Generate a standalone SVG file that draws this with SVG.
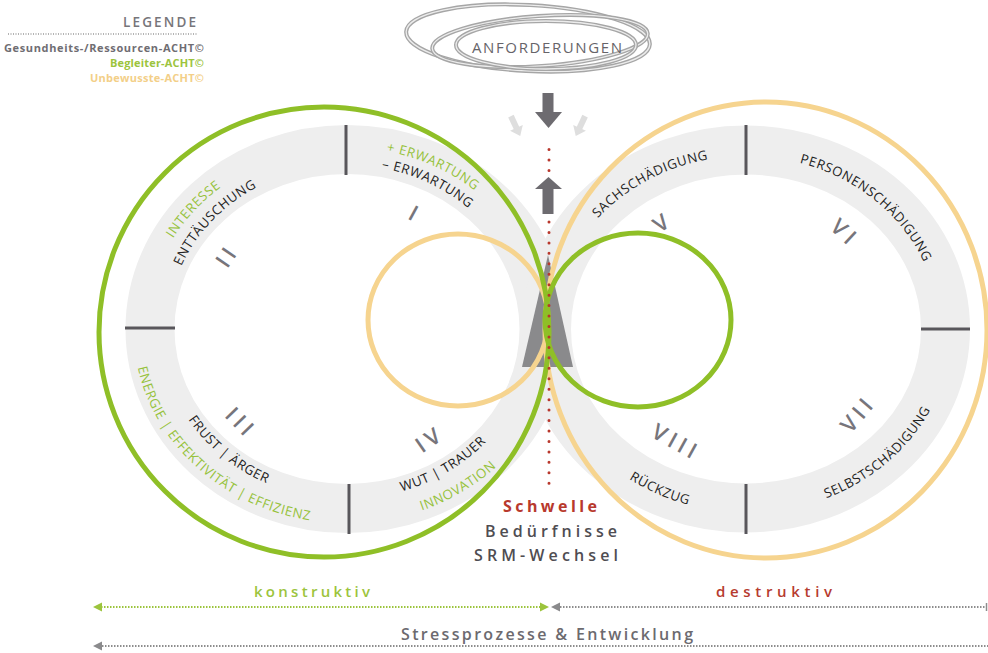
<svg xmlns="http://www.w3.org/2000/svg" width="988" height="653" viewBox="0 0 988 653">
  <defs>
    <style>
      text { font-family: "Open Sans", "Liberation Sans", sans-serif; }
      .band { fill: none; stroke: #eeeeee; stroke-width: 49; }
      .tick { stroke: #58565b; stroke-width: 3; }
      .ring { font-size: 13.2px; letter-spacing: 0.6px; fill: #232323; }
      .ring.g { fill: #96c23c; }
      .num { font-size: 22px; letter-spacing: 4.5px; fill: #77757b; font-weight: 600; }
      .green { fill: none; stroke: #8fbf27; stroke-width: 5; }
      .yellow { fill: none; stroke: #f6d48f; stroke-width: 5; }
      .cloud { fill: none; stroke: #a6a6a6; stroke-width: 4; }
      .cloud-in { fill: none; stroke: #ececec; stroke-width: 1.3; }
      .dark-arrow { fill: #6d6b70; }
      .light-arrow { fill: #dedede; }
      .dots { stroke: #b8372c; stroke-width: 3; stroke-linecap: round; stroke-dasharray: 0 10.45; }
    </style>
    <!-- baselines for the curved labels (ellipse arcs around each ring centre) -->
    <path id="pErw1" d="M269.1,162.3 A197.9,181 0 0 1 539.9,288.3"/>
    <path id="pErw2" d="M279.8,176.9 A179.4,164 0 0 1 522.5,294.9"/>
    <path id="pInt" d="M150.3,363.7 A199.1,182 0 0 1 343.5,147"/>
    <path id="pEnt" d="M170.3,357.5 A179.4,164 0 0 1 347,165"/>
    <path id="pEne" d="M134.4,312.1 A212.2,194 0 0 0 365.5,522.3"/>
    <path id="pFru" d="M160.2,320.1 A187.1,171 0 0 0 369.8,498.7"/>
    <path id="pWut" d="M296,492.4 A186,170 0 0 0 532,346.8"/>
    <path id="pInn" d="M288.5,515.5 A212.2,194 0 0 0 558,349.3"/>
    <path id="pSach" d="M555,304.9 A192.9,173 0 0 1 805.6,164.5"/>
    <path id="pPers" d="M722.5,157.3 A192.9,173 0 0 1 938.6,338.1"/>
    <path id="pSelb" d="M728.1,512.3 A205.2,184 0 0 0 950.4,313"/>
    <path id="pRuck" d="M547.2,370.2 A204,183 0 0 0 825.7,497.5"/>
  </defs>

  <rect width="988" height="653" fill="#ffffff"/>

  <!-- legend -->
  <g id="legend">
    <text x="196" y="27" text-anchor="end" font-size="13.5" font-weight="600" fill="#77757a" textLength="73" lengthAdjust="spacing">LEGENDE</text>
    <line x1="8" y1="34" x2="197" y2="34" stroke="#9a9a9a" stroke-width="1.5" stroke-dasharray="1 1.5"/>
    <text x="204" y="52" text-anchor="end" font-size="11" font-weight="700" fill="#6f6d72" textLength="200" lengthAdjust="spacing">Gesundheits-/Ressourcen-ACHT©</text>
    <text x="204" y="67" text-anchor="end" font-size="11" font-weight="700" fill="#9cc43d" textLength="94" lengthAdjust="spacing">Begleiter-ACHT©</text>
    <text x="204" y="82" text-anchor="end" font-size="11" font-weight="700" fill="#f3cf88" textLength="114" lengthAdjust="spacing">Unbewusste-ACHT©</text>
  </g>

  <!-- grey segment bands -->
  <g id="bands">
    <ellipse class="band" cx="347" cy="329" rx="197" ry="179.5"/>
    <ellipse class="band" cx="746" cy="329" rx="199.5" ry="179"/>
    <line class="tick" x1="346" y1="125" x2="346" y2="175"/>
    <line class="tick" x1="125" y1="328" x2="175" y2="328"/>
    <line class="tick" x1="349" y1="484" x2="349" y2="534"/>
    <line class="tick" x1="746" y1="125" x2="746" y2="175"/>
    <line class="tick" x1="921" y1="329" x2="970" y2="329"/>
    <line class="tick" x1="746" y1="484" x2="746" y2="534"/>
  </g>

  <!-- left ring segments -->
  <g id="seg-I">
    <text class="ring g"><textPath href="#pErw1" startOffset="50%" text-anchor="middle">+ ERWARTUNG</textPath></text>
    <text class="ring"><textPath href="#pErw2" startOffset="50%" text-anchor="middle">– ERWARTUNG</textPath></text>
    <text class="num" text-anchor="middle" dominant-baseline="central" transform="translate(416,213) rotate(28.5)">I</text>
  </g>
  <g id="seg-II">
    <text class="ring g"><textPath href="#pInt" startOffset="50%" text-anchor="middle">INTERESSE</textPath></text>
    <text class="ring"><textPath href="#pEnt" startOffset="50%" text-anchor="middle">ENTTÄUSCHUNG</textPath></text>
    <text class="num" text-anchor="middle" dominant-baseline="central" transform="translate(226,255) rotate(-56)">II</text>
  </g>
  <g id="seg-III">
    <text class="ring g"><textPath href="#pEne" startOffset="50%" text-anchor="middle">ENERGIE | EFFEKTIVITÄT | EFFIZIENZ</textPath></text>
    <text class="ring"><textPath href="#pFru" startOffset="50%" text-anchor="middle">FRUST | ÄRGER</textPath></text>
    <text class="num" text-anchor="middle" dominant-baseline="central" transform="translate(242,422) rotate(46)">III</text>
  </g>
  <g id="seg-IV">
    <text class="ring"><textPath href="#pWut" startOffset="50%" text-anchor="middle">WUT | TRAUER</textPath></text>
    <text class="ring g"><textPath href="#pInn" startOffset="50%" text-anchor="middle">INNOVATION</textPath></text>
    <text class="num" text-anchor="middle" dominant-baseline="central" transform="translate(429,438) rotate(-34.5)">IV</text>
  </g>

  <!-- right ring segments -->
  <g id="seg-V">
    <text class="ring"><textPath href="#pSach" startOffset="50%" text-anchor="middle">SACHSCHÄDIGUNG</textPath></text>
    <text class="num" text-anchor="middle" dominant-baseline="central" transform="translate(662,221) rotate(-35)">V</text>
  </g>
  <g id="seg-VI">
    <text class="ring"><textPath href="#pPers" startOffset="50%" text-anchor="middle">PERSONENSCHÄDIGUNG</textPath></text>
    <text class="num" text-anchor="middle" dominant-baseline="central" transform="translate(846,232) rotate(43)">VI</text>
  </g>
  <g id="seg-VII">
    <text class="ring"><textPath href="#pSelb" startOffset="50%" text-anchor="middle">SELBSTSCHÄDIGUNG</textPath></text>
    <text class="num" text-anchor="middle" dominant-baseline="central" transform="translate(857,413) rotate(-50)">VII</text>
  </g>
  <g id="seg-VIII">
    <text class="ring"><textPath href="#pRuck" startOffset="50%" text-anchor="middle">RÜCKZUG</textPath></text>
    <text class="num" text-anchor="middle" dominant-baseline="central" transform="translate(677,441) rotate(29)">VIII</text>
  </g>

  <!-- threshold wedge -->
  <g id="threshold">
    <polygon points="548,255 522,367 573,367" fill="#8a8a8c"/>
  </g>

  <!-- ACHT loops -->
  <g id="loops">
    <ellipse class="yellow" cx="766" cy="330" rx="221" ry="228"/>
    <ellipse class="yellow" cx="458" cy="320" rx="90" ry="86"/>
    <circle class="green" cx="324" cy="332" r="225"/>
    <ellipse class="green" cx="638" cy="320" rx="93" ry="87"/>
  </g>

  <!-- demands cloud -->
  <g id="anforderungen">
    <ellipse class="cloud" cx="528" cy="38" rx="122" ry="33" transform="rotate(3 528 38)"/>
    <ellipse class="cloud-in" cx="528" cy="38" rx="122" ry="33" transform="rotate(3 528 38)"/>
    <ellipse class="cloud" cx="540" cy="41" rx="108" ry="25" transform="rotate(-4 540 41)"/>
    <ellipse class="cloud-in" cx="540" cy="41" rx="108" ry="25" transform="rotate(-4 540 41)"/>
    <ellipse class="cloud" cx="546" cy="45" rx="90" ry="24"/>
    <ellipse class="cloud-in" cx="546" cy="45" rx="90" ry="24"/>
    <text x="547" y="53" text-anchor="middle" font-size="15" fill="#666469" textLength="150" lengthAdjust="spacing">ANFORDERUNGEN</text>
  </g>

  <!-- connectors: pressure arrows and threshold line -->
  <g id="connectors">
    <rect class="dark-arrow" x="542.5" y="93" width="11" height="20"/>
    <polygon class="dark-arrow" points="535,112 562,112 548.5,128"/>
    <polygon class="dark-arrow" points="548.5,177 535,189 562,189"/>
    <rect class="dark-arrow" x="542.5" y="188" width="11" height="26"/>
    <g transform="translate(516,127) rotate(-25)">
      <rect class="light-arrow" x="-3" y="-12" width="6" height="14"/>
      <polygon class="light-arrow" points="-7,1 7,1 0,10"/>
    </g>
    <g transform="translate(580,127) rotate(25)">
      <rect class="light-arrow" x="-3" y="-12" width="6" height="14"/>
      <polygon class="light-arrow" points="-7,1 7,1 0,10"/>
    </g>
    <line class="dots" x1="549" y1="149.5" x2="549" y2="172"/>
    <line class="dots" x1="549" y1="222" x2="549" y2="487"/>
  </g>

  <!-- threshold labels -->
  <g id="schwelle">
    <text x="550" y="512" text-anchor="middle" font-size="16" font-weight="700" fill="#b8392d" textLength="94" lengthAdjust="spacing">Schwelle</text>
    <text x="551" y="537" text-anchor="middle" font-size="16" font-weight="600" fill="#4f4d52" textLength="132" lengthAdjust="spacing">Bedürfnisse</text>
    <text x="546" y="561" text-anchor="middle" font-size="16" font-weight="600" fill="#4f4d52" textLength="144" lengthAdjust="spacing">SRM-Wechsel</text>
  </g>

  <!-- process axes -->
  <g id="axes">
    <text x="312" y="597" text-anchor="middle" font-size="15" font-weight="600" fill="#9cc43d" textLength="116" lengthAdjust="spacing">konstruktiv</text>
    <text x="774" y="597" text-anchor="middle" font-size="15" font-weight="600" fill="#b63b2f" textLength="116" lengthAdjust="spacing">destruktiv</text>
    <line x1="101" y1="607" x2="541" y2="607" stroke="#9cc43d" stroke-width="2" stroke-dasharray="1.5 1.5"/>
    <polygon points="93,607 102,602.5 102,611.5" fill="#9cc43d"/>
    <polygon points="549,607 540,602.5 540,611.5" fill="#9cc43d"/>
    <polygon points="551,607 560,602.5 560,611.5" fill="#8a8a8c"/>
    <line x1="560" y1="607" x2="986" y2="607" stroke="#8d8d8d" stroke-width="2" stroke-dasharray="1.5 1.5"/>
    <line x1="986.5" y1="603" x2="986.5" y2="611" stroke="#8d8d8d" stroke-width="1.5"/>
    <text x="547" y="640" text-anchor="middle" font-size="16" font-weight="600" fill="#6c6a6f" textLength="292" lengthAdjust="spacing">Stressprozesse &amp; Entwicklung</text>
    <polygon points="93,646 102,641.5 102,650.5" fill="#8a8a8c"/>
    <line x1="102" y1="646" x2="988" y2="646" stroke="#8d8d8d" stroke-width="2" stroke-dasharray="1.5 1.5"/>
  </g>
</svg>
